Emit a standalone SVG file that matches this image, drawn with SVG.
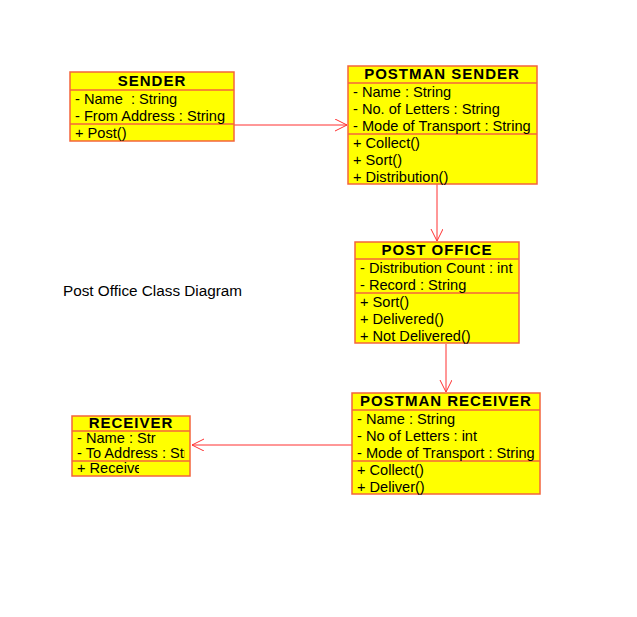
<svg xmlns="http://www.w3.org/2000/svg" width="637" height="617" viewBox="0 0 637 617">
<style>
.box{fill:#ffff00;stroke:#f4643c;stroke-width:1.5}
.sep{stroke:#f4643c;stroke-width:1.5}
.h{font-family:"Liberation Sans",Arial,sans-serif;font-size:15px;font-weight:bold;letter-spacing:1px;fill:#000;text-anchor:middle}
.t{font-family:"Liberation Sans",Arial,sans-serif;font-size:14.6px;fill:#000}
.ti{font-family:"Liberation Sans",Arial,sans-serif;font-size:15.3px;fill:#000}
.c{stroke:#ff3030;stroke-width:1;fill:none}
</style>
<defs>
<marker id="a" markerWidth="14" markerHeight="14" refX="12" refY="6" orient="auto" markerUnits="userSpaceOnUse">
<path d="M0,0 L12,6 L0,12" fill="none" stroke="#ff3030" stroke-width="1"/>
</marker>
<clipPath id="r1"><rect x="72" y="431" width="84" height="15"/></clipPath>
<clipPath id="r2"><rect x="72" y="446" width="113" height="15"/></clipPath>
<clipPath id="r3"><rect x="72" y="461" width="67" height="15"/></clipPath>
</defs>
<rect width="637" height="617" fill="#fff"/>
<g id="connectors">
<line class="c" x1="234" y1="125" x2="347" y2="125" marker-end="url(#a)"/>
<line class="c" x1="437" y1="184" x2="437" y2="241" marker-end="url(#a)"/>
<line class="c" x1="446" y1="344" x2="446" y2="392" marker-end="url(#a)"/>
<line class="c" x1="352" y1="445" x2="192" y2="445" marker-end="url(#a)"/>
</g>
<g id="sender">
<rect class="box" x="70" y="72" width="164" height="69"/>
<line class="sep" x1="70" y1="90" x2="234" y2="90"/>
<line class="sep" x1="70" y1="124" x2="234" y2="124"/>
<text class="h" x="152" y="86">SENDER</text>
<text class="t" x="75" y="104" xml:space="preserve">- Name  : String</text>
<text class="t" x="75" y="121">- From Address : String</text>
<text class="t" x="75" y="138">+ Post()</text>
</g>
<g id="postman-sender">
<rect class="box" x="348" y="66" width="189" height="118"/>
<line class="sep" x1="348" y1="83" x2="537" y2="83"/>
<line class="sep" x1="348" y1="134" x2="537" y2="134"/>
<text class="h" x="442" y="79">POSTMAN SENDER</text>
<text class="t" x="353" y="97">- Name : String</text>
<text class="t" x="353" y="114">- No. of Letters : String</text>
<text class="t" x="353" y="131">- Mode of Transport : String</text>
<text class="t" x="353" y="148">+ Collect()</text>
<text class="t" x="353" y="165">+ Sort()</text>
<text class="t" x="353" y="182">+ Distribution()</text>
</g>
<g id="post-office">
<rect class="box" x="355" y="242" width="164" height="101"/>
<line class="sep" x1="355" y1="259" x2="519" y2="259"/>
<line class="sep" x1="355" y1="293" x2="519" y2="293"/>
<text class="h" x="437" y="255">POST OFFICE</text>
<text class="t" x="360" y="273">- Distribution Count : int</text>
<text class="t" x="360" y="290">- Record : String</text>
<text class="t" x="360" y="307">+ Sort()</text>
<text class="t" x="360" y="324">+ Delivered()</text>
<text class="t" x="360" y="341">+ Not Delivered()</text>
</g>
<g id="postman-receiver">
<rect class="box" x="352" y="393" width="188" height="101"/>
<line class="sep" x1="352" y1="410" x2="540" y2="410"/>
<line class="sep" x1="352" y1="461" x2="540" y2="461"/>
<text class="h" x="446" y="406">POSTMAN RECEIVER</text>
<text class="t" x="357" y="424">- Name : String</text>
<text class="t" x="357" y="441">- No of Letters : int</text>
<text class="t" x="357" y="458">- Mode of Transport : String</text>
<text class="t" x="357" y="475">+ Collect()</text>
<text class="t" x="357" y="492">+ Deliver()</text>
</g>
<g id="receiver">
<rect class="box" x="72" y="416" width="118" height="60"/>
<line class="sep" x1="72" y1="431" x2="190" y2="431"/>
<line class="sep" x1="72" y1="461" x2="190" y2="461"/>
<text class="h" x="131" y="428">RECEIVER</text>
<text class="t" x="77" y="443" clip-path="url(#r1)">- Name : String</text>
<text class="t" x="77" y="458" clip-path="url(#r2)">- To Address : String</text>
<text class="t" x="77" y="473" clip-path="url(#r3)">+ Receive()</text>
</g>
<g id="title">
<text class="ti" x="63" y="296">Post Office Class Diagram</text>
</g>
</svg>
